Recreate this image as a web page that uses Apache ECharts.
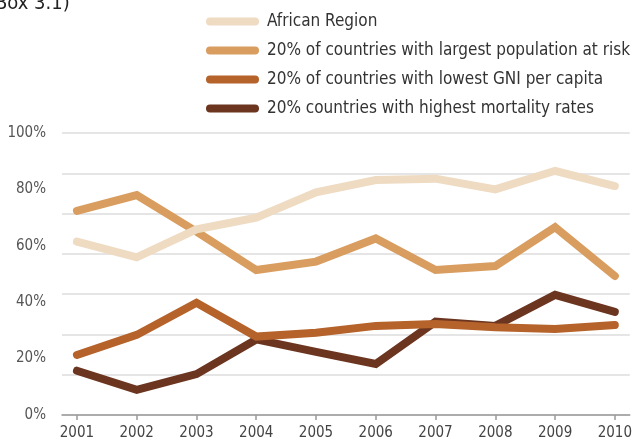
<!DOCTYPE html>
<html><head><meta charset="utf-8">
<script src="https://cdn.jsdelivr.net/npm/echarts@6/dist/echarts.min.js"></script>
<style>html,body{margin:0;padding:0;background:#fff}#c{width:635px;height:444px}</style>
</head><body><div id="c"></div>
<script>
const years = [2001,2002,2003,2004,2005,2006,2007,2008,2009,2010];
const seriesNames = ['African Region','20% of countries with largest population at risk','20% of countries with lowest GNI per capita','20% countries with highest mortality rates'];
const africanRegion = [61.5,55.9,65.8,70.0,79.0,83.3,83.8,80.0,86.6,81.2];
const largestPopulation = [72.4,78.0,65.0,51.4,54.4,62.6,51.4,52.8,66.6,49.3];
const lowestGNI = [21.3,28.4,39.8,27.8,29.2,31.6,32.3,31.1,30.5,31.9];
const highestMortality = [15.7,8.9,14.5,26.8,22.4,18.1,33.1,31.6,42.6,36.6];
const yTicks = [0,20,40,60,80,100];

const colors = ['#EEDBC2','#D89D5F','#B5622B','#6B3520'];
const values = [africanRegion, largestPopulation, lowestGNI, highestMortality];
const FONT = '"Liberation Sans Narrow","DejaVu Sans Condensed",sans-serif';

const chart = echarts.init(document.getElementById('c'), null, {renderer:'canvas'});
const icon = 'path://M4,0 H49 A4,4 0 0 1 49,8 H4 A4,4 0 0 1 4,0 Z';
chart.setOption({
  animation:false,
  graphic:[{type:'text', left:-5, top:-6, style:{text:'Box 3.1)', font:'20px '+FONT, fill:'#222'}}],
  legend:{
    orient:'vertical', left:206, top:13, padding:0, itemWidth:53, itemHeight:8, itemGap:12,
    data: seriesNames.map((n,i)=>({name:n, icon:icon, itemStyle:{color:colors[i]}})),
    textStyle:{fontFamily:FONT, fontSize:17, lineHeight:17, color:'#333', padding:[0,0,0,3]}
  },
  grid:{left:62, right:4, top:133, bottom:29},
  xAxis:{
    type:'value', min:2000.75, max:2010.25,
    axisLine:{lineStyle:{color:'#999', width:1.5}},
    axisTick:{customValues:years, length:5, lineStyle:{color:'#999', width:1.5}},
    axisLabel:{customValues:years, formatter:v=>String(v), fontFamily:FONT, fontSize:15, color:'#444', margin:11},
    splitLine:{show:false}
  },
  yAxis:[
    {type:'value', min:0, max:100, interval:20,
     axisLabel:{customValues:yTicks, formatter:'{value}%', fontFamily:FONT, fontSize:15, color:'#555', margin:16},
     axisLine:{show:false}, axisTick:{show:false}, splitLine:{show:false}},
    {type:'value', min:0, max:7, interval:1, position:'left',
     axisLabel:{show:false}, axisLine:{show:false}, axisTick:{show:false},
     splitLine:{show:true, lineStyle:{color:'#DDDDDD', width:1.5}}}
  ],
  series: seriesNames.map((n,i)=>({
    name:n, type:'line', yAxisIndex:0, symbol:'none', z:10-i,
    data: years.map((y,j)=>[y, values[i][j]]),
    lineStyle:{color:colors[i], width:8, cap:'round', join:'miter'},
    itemStyle:{color:colors[i]}
  }))
});
</script></body></html>
